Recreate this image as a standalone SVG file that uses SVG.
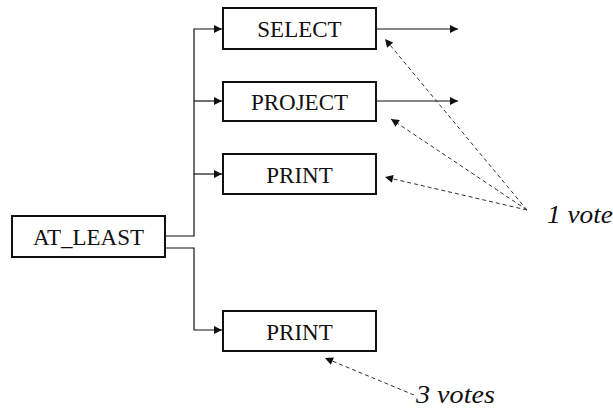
<svg xmlns="http://www.w3.org/2000/svg" width="613" height="416" viewBox="0 0 613 416">
<defs>
<style>
.box{fill:#fff;stroke:#111;stroke-width:2}
.lbl{font-family:"Liberation Serif","Times New Roman",serif;font-size:23px;fill:#111;text-anchor:middle}
.wire{fill:none;stroke:#111;stroke-width:1.2}
.dash{fill:none;stroke:#333;stroke-width:1;stroke-dasharray:4,3}
.note{font-family:"Liberation Serif","Times New Roman",serif;font-style:italic;font-size:25px;fill:#111}
</style>
<marker id="ah" viewBox="0 0 10 10" refX="10" refY="5" markerWidth="9" markerHeight="8" markerUnits="userSpaceOnUse" orient="auto">
<path d="M0,0 L10,5 L0,10 z" fill="#111"/>
</marker>
</defs>
<rect width="613" height="416" fill="#fff"/>
<g id="connectors">
<path class="wire" d="M165,236 H194 V29 H222" marker-end="url(#ah)"/>
<path class="wire" d="M194,101 H222" marker-end="url(#ah)"/>
<path class="wire" d="M194,174 H222" marker-end="url(#ah)"/>
<path class="wire" d="M165,248 H194 V330 H222" marker-end="url(#ah)"/>
<path class="wire" d="M377,29 H458" marker-end="url(#ah)"/>
<path class="wire" d="M377,101 H458" marker-end="url(#ah)"/>
<path class="dash" d="M527,210 L385,39" marker-end="url(#ah)"/>
<path class="dash" d="M527,210 L391,119" marker-end="url(#ah)"/>
<path class="dash" d="M527,210 L385,177" marker-end="url(#ah)"/>
<path class="dash" d="M414,395 L325,358" marker-end="url(#ah)"/>
</g>
<g id="at_least"><rect class="box" x="12" y="216" width="153" height="41"/><text class="lbl" x="88.5" y="245">AT_LEAST</text></g>
<g id="select"><rect class="box" x="223" y="8" width="153" height="41"/><text class="lbl" x="299.5" y="37">SELECT</text></g>
<g id="project"><rect class="box" x="223" y="82" width="153" height="39"/><text class="lbl" x="299.5" y="110">PROJECT</text></g>
<g id="print1"><rect class="box" x="223" y="154" width="153" height="40"/><text class="lbl" x="299.5" y="183">PRINT</text></g>
<g id="print2"><rect class="box" x="223" y="311" width="153" height="40"/><text class="lbl" x="299.5" y="340">PRINT</text></g>
<g id="notes">
<text class="note" x="547" y="223" textLength="66" lengthAdjust="spacingAndGlyphs">1 vote</text>
<text class="note" x="416" y="403" textLength="79" lengthAdjust="spacingAndGlyphs">3 votes</text>
</g>
</svg>
